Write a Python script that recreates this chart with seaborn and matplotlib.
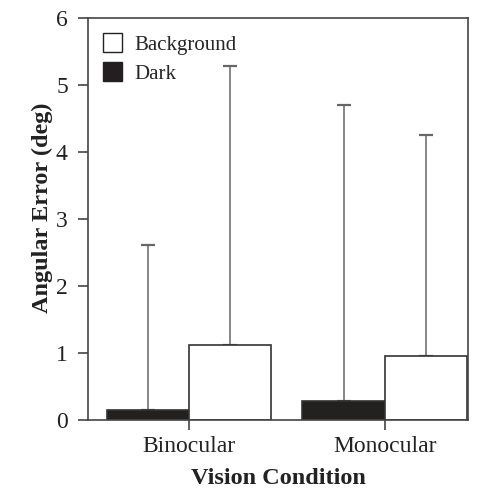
import matplotlib
matplotlib.use("Agg")
import matplotlib.pyplot as plt
import seaborn as sns
import pandas as pd
import numpy as np
from matplotlib.patches import Patch

conditions = ["Binocular", "Monocular"]
series = ["Dark", "Background"]
dark_means = [0.15, 0.29]
background_means = [1.12, 0.96]
dark_upper = [2.62, 4.70]
background_upper = [5.29, 4.25]
y_ticks = [0, 1, 2, 3, 4, 5, 6]

sns.set_theme(style="ticks")
plt.rcParams["font.family"] = ["Liberation Serif", "DejaVu Serif"]

df = pd.DataFrame({
    "Vision Condition": conditions * 2,
    "Series": ["Dark"] * 2 + ["Background"] * 2,
    "Angular Error": dark_means + background_means,
})

fig = plt.figure(figsize=(4.78, 4.91), dpi=100)
ax = fig.add_axes([0.184, 0.1446, 0.795, 0.8184])

sns.barplot(data=df, x="Vision Condition", y="Angular Error", hue="Series",
            hue_order=series, order=conditions,
            palette={"Dark": "#231f20", "Background": "white"},
            width=0.84, edgecolor="#333333", linewidth=1.2, errorbar=None,
            legend=False, ax=ax)

# upper-only error bars
means = {"Dark": dark_means, "Background": background_means}
uppers = {"Dark": dark_upper, "Background": background_upper}
for container, s in zip(ax.containers, series):
    xs = [p.get_x() + p.get_width() / 2 for p in container.patches]
    m = np.array(means[s])
    up = np.array(uppers[s]) - m
    ax.errorbar(xs, m, yerr=[np.zeros_like(up), up], fmt="none",
                ecolor="#666666", elinewidth=1.1, capsize=5, capthick=1.6, zorder=0)

ax.set_xlim(-0.515, 1.425)
ax.set_ylim(0, 6)
ax.set_yticks(y_ticks)
ax.set_yticklabels([str(t) for t in y_ticks])
for sp in ax.spines.values():
    sp.set_color("#444444")
    sp.set_linewidth(1.2)
ax.tick_params(axis="both", labelsize=17, colors="#222222", length=7.5, width=1.2, direction="out")
ax.tick_params(axis="y", pad=7)
ax.tick_params(axis="x", pad=4)
ax.tick_params(axis="both", color="#444444")
ax.set_xlabel("Vision Condition", fontsize=17.5, fontweight="bold", color="#222222", labelpad=8)
ax.set_ylabel("Angular Error (deg)", fontsize=17.5, fontweight="bold", color="#222222")
ax.yaxis.set_label_coords(-0.092, 0.528)

handles = [Patch(facecolor="white", edgecolor="#222222", linewidth=1.0, label="Background"),
           Patch(facecolor="#231f20", edgecolor="#231f20", linewidth=1.0, label="Dark")]
ax.legend(handles=handles, loc="upper left", frameon=False, fontsize=15,
          handlelength=0.95, handleheight=1.05, handletextpad=0.6,
          labelspacing=0.35, borderaxespad=0.3, bbox_to_anchor=(0.0, 1.0))

fig.savefig("out.png", dpi=100)
